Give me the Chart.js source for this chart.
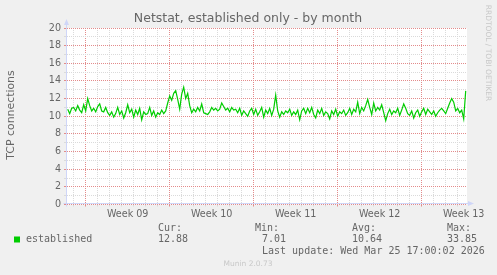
<!DOCTYPE html>
<html>
<head>
<meta charset="utf-8">
<script src="https://cdn.jsdelivr.net/npm/chart.js@4"></script>
<style>
  html, body { margin: 0; padding: 0; background: #F0F0F0; }
</style>
</head>
<body>
<canvas id="myChart" width="497" height="275"></canvas>
<script>
// samples every 4 hours, day 0 = monday of week 09
const startDay = -1.5;
const stepDay = 1 / 6;
const established = [
  10.8, 10.3, 10.9, 11.0, 10.6, 11.2, 10.7, 10.4, 11.3, 10.6,
  12.0, 11.2, 10.6, 10.9, 10.5, 11.1, 11.4, 10.6, 10.5, 11.0,
  10.4, 10.1, 10.5, 9.9, 10.3, 11.0, 10.2, 10.6, 9.8, 10.4,
  11.3, 10.4, 10.8, 9.9, 10.7, 10.2, 10.9, 9.6, 10.5, 10.2,
  10.3, 11.0, 10.1, 10.6, 9.9, 10.4, 10.2, 10.7, 10.3, 10.6,
  11.5, 12.3, 11.8, 12.6, 12.9, 11.9, 10.8, 12.5, 13.3, 12.0,
  12.6, 11.2, 10.4, 10.8, 10.5, 11.0, 10.6, 11.4, 10.4, 10.3,
  10.2, 10.5, 11.0, 10.7, 10.9, 10.6, 10.8, 11.5, 11.1, 10.7,
  10.9, 10.5, 11.0, 10.7, 10.8, 10.4, 10.9, 10.1, 10.6, 10.3,
  10.0, 10.6, 10.9, 10.2, 10.8, 10.1, 10.5, 11.0, 9.9, 10.7,
  10.3, 10.9, 10.1, 10.8, 12.4, 10.6, 9.9, 10.5, 10.2, 10.6,
  10.4, 10.8, 10.1, 10.5, 10.2, 10.7, 9.6, 10.6, 10.9, 10.3,
  10.9, 10.4, 11.0, 10.2, 9.8, 10.7, 10.3, 10.9, 10.1, 10.5,
  10.3, 9.7, 10.6, 10.2, 10.8, 10.0, 10.5, 10.3, 10.7, 10.1,
  10.4, 10.9, 10.2, 10.8, 10.5, 11.6, 10.3, 11.0, 10.6, 11.2,
  11.9, 11.0, 10.2, 11.5, 10.6, 11.0, 10.7, 11.3, 10.4, 9.5,
  10.3, 10.8, 10.2, 10.6, 10.4, 10.9, 10.1, 10.7, 11.4, 10.9,
  10.3, 10.1, 10.6, 9.8, 10.4, 10.7, 10.0, 10.5, 10.9, 10.2,
  10.8, 10.5, 10.2, 10.6, 10.0, 10.4, 10.7, 10.9, 10.6, 10.3,
  10.9, 11.5, 12.0, 11.6, 10.6, 10.9, 10.4, 10.7, 9.7, 12.88
];
const weekLabels = ["Week 09", "Week 10", "Week 11", "Week 12", "Week 13"];
const weekMiddles = [3.5, 10.5, 17.5, 24.5, 31.5];
const xMin = -1.5583, xMax = 31.775;
const yMin = 0, yMax = 20;

const statNames = ["Cur:", "Min:", "Avg:", "Max:"];
const statValues = ["12.88", "7.01", "10.64", "33.85"];
const lastUpdate = "Last update: Wed Mar 25 17:00:02 2026";

const GRID = "#DADADA";
const MGRID = "#E38B8B";
const AXIS = "#CFD6F8";
const FONT = "#666666";

const points = established.map((v, i) => ({ x: startDay + i * stepDay, y: v }));

const muninDeco = {
  id: "muninDeco",
  beforeDraw(chart) {
    const { ctx, chartArea: a } = chart;
    ctx.save();
    ctx.fillStyle = "#F0F0F0";
    ctx.fillRect(0, 0, chart.width, chart.height);
    ctx.fillStyle = "#FFFFFF";
    ctx.fillRect(a.left, a.top, a.right - a.left, a.bottom - a.top);
    ctx.restore();
  },
  afterDraw(chart) {
    const { ctx, chartArea: a } = chart;
    ctx.save();
    // axes + arrows
    const ax = a.left - 0.5, ay = Math.floor(a.bottom) - 0.5;
    ctx.strokeStyle = AXIS;
    ctx.lineWidth = 1;
    ctx.beginPath();
    ctx.moveTo(ax, ay + 3); ctx.lineTo(ax, a.top - 5);
    ctx.moveTo(ax - 3, ay); ctx.lineTo(a.right + 3, ay);
    ctx.stroke();
    ctx.fillStyle = AXIS;
    ctx.beginPath();
    ctx.moveTo(ax - 2.5, a.top - 3); ctx.lineTo(ax + 2.5, a.top - 3); ctx.lineTo(ax, a.top - 9);
    ctx.closePath(); ctx.fill();
    ctx.beginPath();
    ctx.moveTo(a.right + 1, ay - 2.5); ctx.lineTo(a.right + 1, ay + 2.5); ctx.lineTo(a.right + 7, ay);
    ctx.closePath(); ctx.fill();

    // title
    ctx.fillStyle = FONT;
    ctx.textBaseline = "middle";
    ctx.textAlign = "center";
    ctx.font = "12.5px 'DejaVu Sans'";
    ctx.fillText("Netstat, established only - by month", 248, 19);

    // vertical axis title
    ctx.save();
    ctx.translate(11, 115);
    ctx.rotate(-Math.PI / 2);
    ctx.font = "10.9px 'DejaVu Sans'";
    ctx.fillText("TCP connections", 0, 0);
    ctx.restore();

    // rrdtool watermark
    ctx.save();
    ctx.translate(487.5, 53);
    ctx.rotate(Math.PI / 2);
    ctx.fillStyle = "#C8C8C8";
    ctx.font = "7.5px 'DejaVu Sans'";
    ctx.fillText("RRDTOOL / TOBI OETIKER", 0, 0);
    ctx.restore();

    // legend
    ctx.textAlign = "left";
    ctx.font = "10px 'DejaVu Sans Mono'";
    ctx.fillStyle = "#00CC00";
    ctx.fillRect(14, 236.5, 6, 6);
    ctx.fillStyle = FONT;
    ctx.fillText("established", 26, 239.5);
    const nameX = [158, 255, 352, 447];
    const valX = [158, 262, 352, 447];
    for (let i = 0; i < statNames.length; i++) {
      ctx.fillText(statNames[i], nameX[i], 228);
      ctx.fillText(statValues[i], valX[i], 239.5);
    }
    ctx.fillText(lastUpdate, 262, 251.7);

    ctx.textAlign = "center";
    ctx.fillStyle = "#C8C8C8";
    ctx.font = "7.5px 'DejaVu Sans'";
    ctx.fillText("Munin 2.0.73", 248, 264.5);
    ctx.restore();
  }
};

const ctx = document.getElementById("myChart").getContext("2d");
const chart = new Chart(ctx, {
  type: "line",
  data: {
    datasets: [{
      label: "established",
      data: points,
      borderColor: "#00CC00",
      borderWidth: 1.2,
      pointRadius: 0,
      tension: 0,
      fill: false
    }]
  },
  options: {
    responsive: false,
    animation: false,
    layout: { padding: { top: 28, right: 30, left: 0, bottom: 0 } },
    plugins: { legend: { display: false }, tooltip: { enabled: false } },
    scales: {
      x: {
        type: "linear",
        min: xMin,
        max: xMax,
        afterBuildTicks(scale) {
          const t = [];
          for (let k = Math.ceil(scale.min * 2); k <= Math.floor(scale.max * 2); k++) t.push({ value: k / 2 });
          scale.ticks = t;
        },
        afterFit(scale) { scale.height = 70.5; },
        ticks: {
          autoSkip: false,
          maxRotation: 0,
          padding: 2,
          color: FONT,
          font: { family: "DejaVu Sans", size: 9.6 },
          callback(v) {
            const k = weekMiddles.indexOf(v);
            return k >= 0 ? weekLabels[k] : "";
          }
        },
        grid: {
          tickLength: 2,
          color(c) {
            if (!c.tick) return "rgba(0,0,0,0)";
            const v = c.tick.value;
            if (v !== Math.round(v)) return "rgba(0,0,0,0)";
            return v % 7 === 0 ? MGRID : GRID;
          }
        },
        border: { display: false, dash: [1, 1] }
      },
      y: {
        min: yMin,
        max: yMax,
        afterFit(scale) { scale.width = 67; },
        ticks: {
          stepSize: 1,
          autoSkip: false,
          padding: 3,
          color: FONT,
          font: { family: "DejaVu Sans", size: 9.6 },
          callback: (v) => (v % 2 === 0 ? v : "")
        },
        grid: {
          tickLength: 3,
          color(c) {
            if (!c.tick) return GRID;
            return c.tick.value % 2 === 0 ? MGRID : GRID;
          }
        },
        border: { display: false, dash: [1, 1] }
      }
    }
  },
  plugins: [muninDeco]
});
</script>
</body>
</html>
